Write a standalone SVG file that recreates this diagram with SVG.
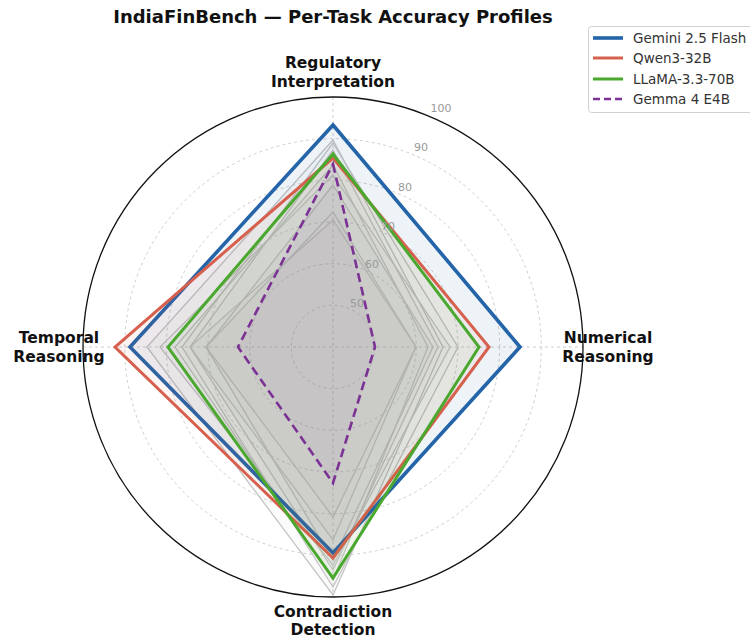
<svg xmlns="http://www.w3.org/2000/svg" width="750" height="640" viewBox="0 0 750 640">
<style>
text{font-family:"DejaVu Sans","Liberation Sans",sans-serif}
.title{font-size:18px;font-weight:bold;fill:#111}
.ax{font-size:15.5px;font-weight:bold;fill:#111;text-anchor:middle}
.rl{font-size:11px;fill:#999;text-anchor:middle}
.grid{fill:none;stroke:#c8c8c8;stroke-width:0.9;stroke-dasharray:3 3}
.gray{fill:#9a9a9a;fill-opacity:0.045;stroke:#c4c4c4;stroke-width:1.3;stroke-linejoin:miter}
.leg{font-size:13.5px;fill:#333}
</style>
<rect width="750" height="640" fill="#fff"/>
<text class="title" x="333" y="23" text-anchor="middle">IndiaFinBench — Per-Task Accuracy Profiles</text>

<g id="grid">
<circle class="grid" cx="333" cy="347" r="41.7"/>
<circle class="grid" cx="333" cy="347" r="83.3"/>
<circle class="grid" cx="333" cy="347" r="125"/>
<circle class="grid" cx="333" cy="347" r="166.7"/>
<circle class="grid" cx="333" cy="347" r="208.3"/>
<line class="grid" x1="333" y1="97" x2="333" y2="597"/>
<line class="grid" x1="83" y1="347" x2="583" y2="347"/>
</g>

<g id="others">
<polygon class="gray" points="333,140 443,347 333,595 147,347"/>
<polygon class="gray" points="333,143 458,347 333,587 182,347"/>
<polygon class="gray" points="333,150 438,347 333,570 190,347"/>
<polygon class="gray" points="333,185 433,347 333,560 206,347"/>
<polygon class="gray" points="333,212 416,347 333,517 206,347"/>
<polygon class="gray" points="333,165 428,347 333,580 175,347"/>
<polygon class="gray" points="333,220 416,347 333,540 190,347"/>
<polygon class="gray" points="333,175 450,347 333,565 160,347"/>
</g>

<g id="gemini">
<polygon points="333,125 520,347 333,553 130,347" fill="#2166ac" fill-opacity="0.08" stroke="#2464a8" stroke-width="3.6"/>
</g>
<g id="qwen">
<polygon points="333,158 489,347 333,558 115,347" fill="#d6604d" fill-opacity="0.07" stroke="#d6604d" stroke-width="3"/>
</g>
<g id="llama">
<polygon points="333,154 479,347 333,578 168,347" fill="#4dac26" fill-opacity="0.05" stroke="#4aa82e" stroke-width="3"/>
</g>
<g id="gemma">
<polygon points="333,164 375,347 333,483 238,347" fill="#7b3294" fill-opacity="0.05" stroke="#7b3294" stroke-width="2.6" stroke-dasharray="9 5"/>
</g>

<circle cx="333" cy="347" r="250" fill="none" stroke="#111" stroke-width="1.3"/>

<g id="rlabels">
<text class="rl" x="357" y="307">50</text>
<text class="rl" x="372" y="268">60</text>
<text class="rl" x="388" y="230">70</text>
<text class="rl" x="405" y="191">80</text>
<text class="rl" x="421" y="151">90</text>
<text class="rl" x="441" y="112">100</text>
</g>

<g id="axis-labels">
<text class="ax" x="333" y="68">Regulatory</text>
<text class="ax" x="333" y="87">Interpretation</text>
<text class="ax" x="608" y="343">Numerical</text>
<text class="ax" x="608" y="362">Reasoning</text>
<text class="ax" x="333" y="617">Contradiction</text>
<text class="ax" x="333" y="635">Detection</text>
<text class="ax" x="59" y="343">Temporal</text>
<text class="ax" x="59" y="362">Reasoning</text>
</g>

<g id="legend">
<rect x="588.5" y="26.5" width="170" height="86" rx="3" fill="#fff" fill-opacity="0.9" stroke="#d0d0d0"/>
<line x1="593" y1="38" x2="623" y2="38" stroke="#2464a8" stroke-width="3.6"/>
<text class="leg" x="633" y="43">Gemini 2.5 Flash</text>
<line x1="593" y1="58" x2="623" y2="58" stroke="#d6604d" stroke-width="3"/>
<text class="leg" x="633" y="63">Qwen3-32B</text>
<line x1="593" y1="79" x2="623" y2="79" stroke="#4aa82e" stroke-width="3"/>
<text class="leg" x="633" y="84">LLaMA-3.3-70B</text>
<line x1="593" y1="99" x2="623" y2="99" stroke="#7b3294" stroke-width="2.6" stroke-dasharray="7 4"/>
<text class="leg" x="633" y="104">Gemma 4 E4B</text>
</g>
</svg>
